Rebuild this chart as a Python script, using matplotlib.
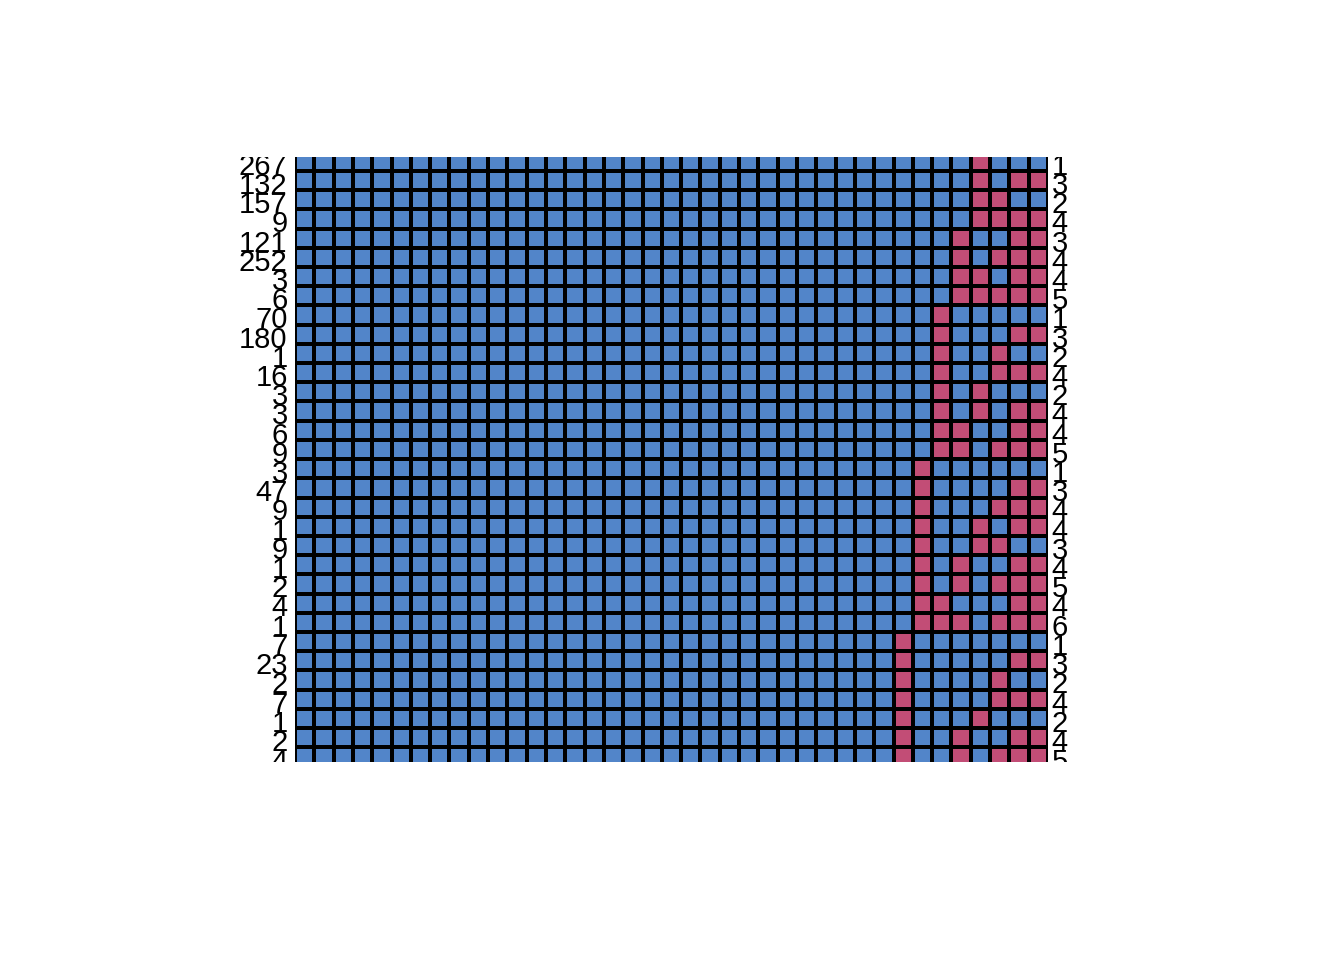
import numpy as np
import matplotlib
matplotlib.use('Agg')
from matplotlib import pyplot as plt
from matplotlib.colors import ListedColormap
from matplotlib.transforms import Bbox, TransformedBbox

plt.rcParams['font.family'] = ['Liberation Sans', 'DejaVu Sans']

# frequency of each missing data pattern (left labels)
freq = [267, 132, 157, 9, 121, 252, 3, 6, 70, 180, 1, 16, 3, 3, 6, 9,
        3, 47, 9, 1, 9, 1, 2, 4, 1, 7, 23, 2, 7, 1, 2, 4]
# number of missing variables in each pattern (right labels)
nmiss = [1, 3, 2, 4, 3, 4, 4, 5, 1, 3, 2, 4, 2, 4, 4, 5,
         1, 3, 4, 4, 3, 4, 5, 4, 6, 1, 3, 2, 4, 2, 4, 5]
# last 8 variables, 1 = missing
patterns = ['00001000', '00001011', '00001100', '00001111',
            '00010011', '00010111', '00011011', '00011111',
            '00100000', '00100011', '00100100', '00100111',
            '00101000', '00101011', '00110011', '00110111',
            '01000000', '01000011', '01000111', '01001011',
            '01001100', '01010011', '01010111', '01100011',
            '01110111', '10000000', '10000011', '10000100',
            '10000111', '10001000', '10010011', '10010111']
n_complete = 31  # columns fully observed

tail = np.array([[int(c) for c in p] for p in patterns])
mat = np.hstack([np.zeros((len(patterns), n_complete), dtype=int), tail])
nrow, ncol = mat.shape

fig = plt.figure(figsize=(13.44, 9.6), dpi=100)
ax = fig.add_axes([295/1344, 198/960, 753/1344, 605/960])

cmap = ListedColormap(['#5285C9', '#C24D76'])
ax.pcolormesh(np.arange(ncol+1), np.arange(nrow+1), mat, cmap=cmap, vmin=0, vmax=1,
              edgecolors='black', linewidth=1.5)
ax.set_xlim(0, ncol)
# the grid is cut a bit at top and bottom, like the original
ax.set_ylim(nrow - 0.23, 0.27)
ax.axis('off')

# labels clipped to the vertical extent of the grid only
clip = TransformedBbox(Bbox.from_extents(-0.5, 0, 1.5, 1), ax.transAxes)
for i in range(nrow):
    y = i + 0.62
    t1 = ax.text(-0.38, y, str(freq[i]), ha='right', va='center_baseline', fontsize=21)
    t2 = ax.text(ncol + 0.2, y, str(nmiss[i]), ha='left', va='center_baseline', fontsize=21)
    for t in (t1, t2):
        t.set_clip_on(True)
        t.set_clip_box(clip)

fig.savefig('out.png', dpi=100)
